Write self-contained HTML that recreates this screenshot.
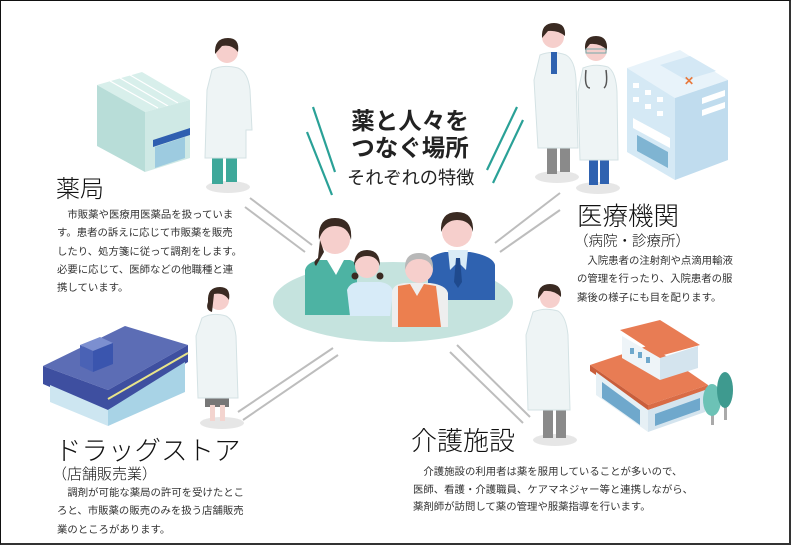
<!DOCTYPE html>
<html><head><meta charset="utf-8">
<style>
html,body{margin:0;padding:0;background:#fff;}
body{width:796px;height:548px;position:relative;overflow:hidden;font-family:"Liberation Sans","Noto Sans CJK JP",sans-serif;color:#222;}
.frame{position:absolute;left:0;top:0;width:791px;height:545px;border:1px solid #111;border-right:2px solid #333;border-bottom:2px solid #333;box-sizing:border-box;}
.t{position:absolute;white-space:nowrap;line-height:1;}
.h{font-weight:300;color:#111;}
.b{font-size:10.4px;line-height:18.3px;color:#333;}
</style></head><body>
<svg width="796" height="548" style="position:absolute;left:0;top:0">
<defs>
<g id="doc">
 <ellipse cx="0" cy="0" rx="22" ry="7" fill="#e6e6e6"/>
</g>
</defs>
<!-- teal lines -->
<g stroke="#2aa197" stroke-width="2.2">
<line x1="313" y1="107" x2="335" y2="172"/><line x1="307" y1="132" x2="332" y2="195"/>
<line x1="517" y1="107" x2="487" y2="170"/><line x1="523" y1="120" x2="493" y2="183"/>
</g>
<!-- gray connectors -->
<g stroke="#bdbdbd" stroke-width="2">
<line x1="250" y1="198" x2="312" y2="245"/><line x1="245" y1="207" x2="305" y2="252"/>
<line x1="560" y1="193" x2="495" y2="243"/><line x1="560" y1="210" x2="500" y2="252"/>
<line x1="333" y1="348" x2="238" y2="412"/><line x1="338" y1="355" x2="243" y2="420"/>
<line x1="457" y1="345" x2="530" y2="417"/><line x1="450" y1="352" x2="523" y2="423"/>
</g>
<!-- center ellipse & family -->
<ellipse cx="393" cy="302" rx="120" ry="40" fill="#c5e3de"/>
<!-- man -->
<path d="M428 262 Q430 255 445 252 L470 252 Q493 256 495 265 L495 300 L428 300Z" fill="#2f62b0"/>
<path d="M448 250 L468 250 L466 270 L458 262 L450 270Z" fill="#d9ecf7"/>
<path d="M456 258 L460 258 L462 282 L458 288 L454 282Z" fill="#1f4a8e"/>
<circle cx="457" cy="232" r="15" fill="#f6cfcc"/>
<path d="M441 232 Q440 212 457 212 Q474 212 473 232 Q470 220 457 220 Q446 220 441 232Z" fill="#3a2a22"/>
<!-- woman -->
<path d="M305 270 Q307 262 320 260 L350 260 Q357 262 357 270 L357 315 L305 315Z" fill="#4db3a3"/>
<path d="M327 260 L344 260 L336 275Z" fill="#fff"/>
<circle cx="335" cy="239" r="15" fill="#f6cfcc"/>
<path d="M319 240 Q317 218 335 218 Q353 218 351 240 Q348 226 335 226 Q323 226 319 240Z M320 240 L318 258 Q312 262 316 266 L324 252Z" fill="#3a2a22"/>
<!-- child -->
<path d="M347 290 Q350 282 360 282 L380 282 Q392 284 393 292 L390 316 L350 316Z" fill="#d7ebf8"/>
<circle cx="367" cy="266" r="12" fill="#f6cfcc"/>
<path d="M354 266 Q354 250 367 250 Q380 250 380 266 Q377 256 367 256 Q357 256 354 266Z" fill="#3a2a22"/>
<circle cx="355" cy="276" r="3.5" fill="#3a2a22"/><circle cx="380" cy="276" r="3.5" fill="#3a2a22"/>
<!-- grandpa -->
<path d="M392 292 Q393 284 405 283 L430 283 Q446 285 448 293 L448 327 L392 327Z" fill="#eeeeee"/>
<path d="M398 286 L410 284 L417 296 L424 284 L436 286 L441 327 L398 327Z" fill="#ec7f4f"/>
<circle cx="419" cy="269" r="14" fill="#f6cfcc"/>
<path d="M405 270 Q404 253 419 253 Q434 253 433 270 Q430 259 419 259 Q408 259 405 270Z" fill="#b8b8b8"/>
<!-- pharmacy building -->
<polygon points="97,85 142,72 190,100 145,112" fill="#d8efeb"/>
<g stroke="#fff" stroke-width="1.2"><line x1="110" y1="81" x2="158" y2="108"/><line x1="120" y1="78" x2="168" y2="106"/><line x1="130" y1="75" x2="178" y2="103"/></g>
<polygon points="97,85 145,112 145,172 97,146" fill="#b8ddd8"/>
<polygon points="145,112 190,100 190,158 145,172" fill="#cfe9e5"/>
<polygon points="153,140 190,128 190,135 153,147" fill="#2f5fb0"/>
<polygon points="155,147 185,137 185,158 155,168" fill="#9dcbe0"/>
<!-- pharmacy doctor -->
<ellipse cx="228" cy="187" rx="22" ry="6" fill="#e6e6e6"/>
<rect x="212" y="150" width="11" height="34" fill="#3ea89a"/><rect x="226" y="150" width="11" height="32" fill="#3ea89a"/>
<path d="M212 70 Q222 64 238 68 Q248 72 250 90 L252 130 L246 130 L246 158 L205 158 L207 90Z" fill="#eef4f5" stroke="#d4e2e4"/>
<circle cx="227" cy="52" r="11" fill="#f6cfcc"/>
<path d="M215 54 Q214 38 228 38 Q240 38 238 52 Q232 44 222 46Z" fill="#3a2a22"/>
<!-- hospital doctors -->
<ellipse cx="557" cy="177" rx="22" ry="6" fill="#e6e6e6"/>
<rect x="547" y="142" width="10" height="32" fill="#8a8a8a"/><rect x="560" y="142" width="10" height="30" fill="#8a8a8a"/>
<path d="M540 55 Q552 50 566 55 Q575 60 576 80 L578 148 L538 148 L534 80Z" fill="#eef4f5" stroke="#d4e2e4"/>
<rect x="551" y="52" width="6" height="22" fill="#2f62b0"/>
<circle cx="553" cy="37" r="11" fill="#f6cfcc"/>
<path d="M542 38 Q541 23 554 23 Q566 23 565 36 Q558 30 548 31Z" fill="#3a2a22"/>
<ellipse cx="598" cy="188" rx="22" ry="6" fill="#e6e6e6"/>
<rect x="589" y="155" width="9" height="30" fill="#2f62b0"/><rect x="600" y="155" width="9" height="29" fill="#2f62b0"/>
<path d="M583 68 Q595 63 608 67 Q616 72 617 92 L618 160 L580 160 L578 92Z" fill="#eef4f5" stroke="#d4e2e4"/>
<path d="M586 70 Q584 88 590 88 M606 70 Q608 85 604 88" stroke="#555" fill="none" stroke-width="1.5"/>
<circle cx="596" cy="50" r="11" fill="#f6cfcc"/>
<path d="M585 50 Q584 36 596 36 Q608 36 607 50 Q600 43 590 44Z" fill="#3a2a22"/>
<rect x="586" y="49" width="20" height="4" fill="none" stroke="#7aa" stroke-width="1"/>
<!-- hospital -->
<polygon points="627,68 680,50 728,80 675,98" fill="#e8f3fa"/>
<polygon points="660,65 690,56 716,71 686,80" fill="#d4e8f5"/>
<polygon points="627,68 675,98 675,180 627,152" fill="#d5e9f5"/>
<polygon points="675,98 728,80 728,160 675,180" fill="#c0dcee"/>
<g fill="#fff"><rect x="633" y="83" width="6" height="5"/><rect x="645" y="90" width="6" height="5"/><rect x="657" y="97" width="6" height="5"/><rect x="633" y="97" width="6" height="5"/><rect x="645" y="104" width="6" height="5"/><rect x="657" y="111" width="6" height="5"/><polygon points="633,118 670,138 670,148 633,128"/><polygon points="702,98 725,90 725,96 702,104"/><polygon points="702,110 725,102 725,108 702,116"/></g>
<polygon points="637,135 668,152 668,168 637,151" fill="#7fb4d2"/>
<text x="684" y="85" fill="#e8793d" font-size="12" font-weight="bold">✕</text>
<!-- drugstore -->
<polygon points="43,366 125,326 188,345 108,390" fill="#5c6db5"/>
<polygon points="43,366 108,390 108,412 43,384" fill="#3e4fa0"/>
<polygon points="108,390 188,345 188,362 108,410" fill="#3e4fa0"/>
<line x1="108" y1="399" x2="188" y2="353" stroke="#e8e48a" stroke-width="2"/>
<polygon points="50,385 108,410 108,426 50,402" fill="#cde6f1"/>
<polygon points="108,410 185,362 185,392 108,426" fill="#a8d3e6"/>
<polygon points="80,345 100,337 113,343 93,351" fill="#7c8fd0"/>
<polygon points="80,345 93,351 93,372 80,366" fill="#4a62b5"/>
<polygon points="93,351 113,343 113,364 93,372" fill="#3a55ae"/>
<!-- drugstore doctor -->
<ellipse cx="222" cy="423" rx="22" ry="6" fill="#e6e6e6"/>
<rect x="205" y="395" width="24" height="12" fill="#777"/>
<rect x="210" y="405" width="5" height="16" fill="#f3d4cf"/><rect x="220" y="405" width="5" height="16" fill="#f3d4cf"/>
<path d="M202 318 Q212 312 226 316 Q234 320 236 336 L238 398 L198 398 L196 336Z" fill="#eef4f5" stroke="#d4e2e4"/>
<circle cx="219" cy="300" r="10" fill="#f6cfcc"/>
<path d="M208 302 Q207 287 220 287 Q231 287 229 300 Q224 292 214 294 L212 312 Q205 310 208 302Z" fill="#3a2a22"/>
<!-- care doctor -->
<ellipse cx="555" cy="440" rx="22" ry="6" fill="#e6e6e6"/>
<rect x="543" y="405" width="10" height="33" fill="#8a8a8a"/><rect x="556" y="405" width="10" height="33" fill="#8a8a8a"/>
<path d="M533 312 Q545 307 558 311 Q566 316 568 335 L570 410 L528 410 L526 335Z" fill="#eef4f5" stroke="#d4e2e4"/>
<circle cx="550" cy="298" r="10" fill="#f6cfcc"/>
<path d="M538 299 Q537 284 550 284 Q562 284 561 297 Q554 290 544 291Z" fill="#3a2a22"/>
<!-- care facility -->
<polygon points="590,365 650,345 708,385 648,405" fill="#e87c54"/>
<polygon points="590,365 648,405 648,410 590,371" fill="#c95e3b"/>
<polygon points="648,405 708,385 708,390 648,410" fill="#d96c46"/>
<polygon points="596,372 648,410 648,432 596,395" fill="#e6f0f5"/>
<polygon points="648,410 705,390 705,412 648,432" fill="#d4e4ee"/>
<g fill="#6fa8cc"><polygon points="602,382 640,410 640,425 602,398"/><polygon points="655,414 700,398 700,410 655,426"/></g>
<polygon points="620,330 660,320 700,345 660,356" fill="#e87c54"/>
<polygon points="622,336 660,358 660,380 622,358" fill="#eef4f8"/>
<polygon points="660,358 698,346 698,368 660,380" fill="#d4e4ee"/>
<g fill="#6fa8cc"><rect x="630" y="348" width="4" height="6"/><rect x="638" y="352" width="4" height="6"/><rect x="646" y="357" width="4" height="6"/></g>
<rect x="711" y="405" width="3" height="20" fill="#aaa"/><rect x="724" y="395" width="3" height="25" fill="#aaa"/>
<ellipse cx="712" cy="400" rx="9" ry="16" fill="#6cc2b6"/>
<ellipse cx="725" cy="390" rx="8" ry="18" fill="#3e9a8f"/>
</svg>
<div class="frame"></div>
<!-- center title -->
<div class="t" style="left:348px;top:108px;font-size:23.5px;font-weight:bold;line-height:27px;text-align:center;width:124px;">薬と人々を<br>つなぐ場所</div>
<div class="t" style="left:347px;top:169px;font-size:18.2px;">それぞれの特徴</div>
<!-- 薬局 -->
<div class="t h" style="left:56px;top:178px;font-size:24px;">薬局</div>
<div class="t b" style="left:57px;top:207px;">　市販薬や医療用医薬品を扱っていま<br>す。患者の訴えに応じて市販薬を販売<br>したり、処方箋に従って調剤をします。<br>必要に応じて、医師などの他職種と連<br>携しています。</div>
<!-- 医療機関 -->
<div class="t h" style="left:577px;top:205px;font-size:25.5px;">医療機関</div>
<div class="t h" style="left:574px;top:235px;font-size:14.5px;">（病院・診療所）</div>
<div class="t b" style="left:577px;top:253px;">　入院患者の注射剤や点滴用輸液<br>の管理を行ったり、入院患者の服<br>薬後の様子にも目を配ります。</div>
<!-- ドラッグストア -->
<div class="t h" style="left:55px;top:438px;font-size:26.5px;">ドラッグストア</div>
<div class="t h" style="left:52px;top:467px;font-size:15px;">（店舗販売業）</div>
<div class="t b" style="left:57px;top:485px;">　調剤が可能な薬局の許可を受けたとこ<br>ろと、市販薬の販売のみを扱う店舗販売<br>業のところがあります。</div>
<!-- 介護施設 -->
<div class="t h" style="left:411px;top:428px;font-size:26px;">介護施設</div>
<div class="t b" style="left:413px;top:464px;line-height:17.5px;">　介護施設の利用者は薬を服用していることが多いので、<br>医師、看護・介護職員、ケアマネジャー等と連携しながら、<br>薬剤師が訪問して薬の管理や服薬指導を行います。</div>
</body></html>
